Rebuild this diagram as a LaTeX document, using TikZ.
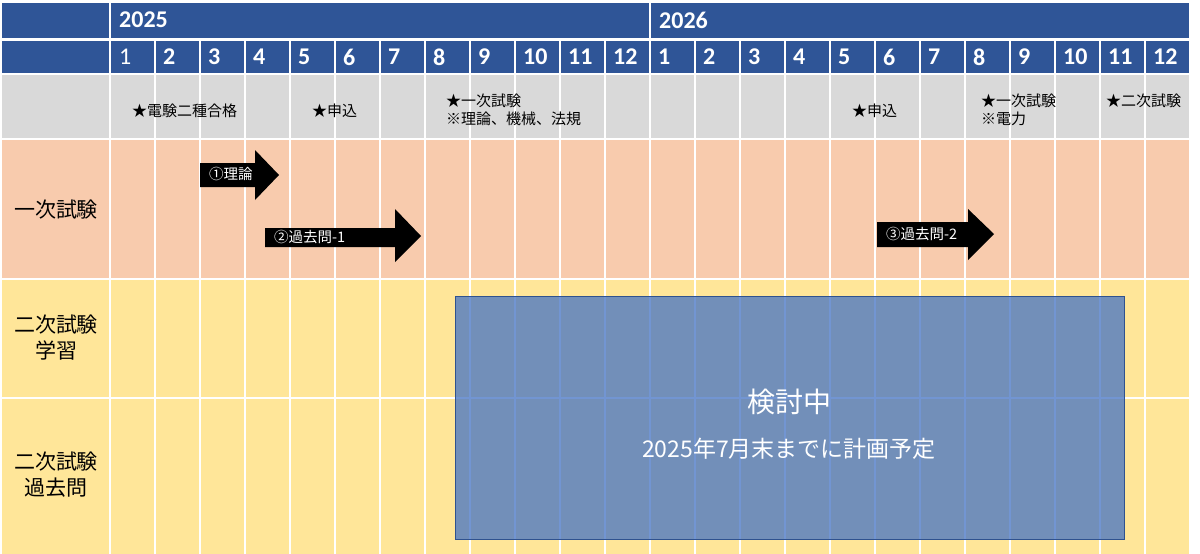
\documentclass[tikz,border=0pt]{standalone}
\usepackage{fontspec}
\setmainfont{Noto Sans CJK JP}
\newfontfamily\numfont{Carlito}
\definecolor{hdr}{HTML}{2F5597}
\definecolor{gry}{HTML}{D9D9D9}
\definecolor{pch}{HTML}{F8CBAD}
\definecolor{ylw}{HTML}{FFE699}
\definecolor{planfill}{HTML}{4472C4}
\definecolor{planedge}{HTML}{2F528F}
\tikzset{
  gridline/.style={white, line width=1.8pt},
  yeartxt/.style={anchor=west, inner sep=0pt, text=white, font=\numfont\bfseries\fontsize{24}{28}\selectfont},
  monthtxt/.style={anchor=west, inner sep=0pt, text=white, font=\numfont\bfseries\fontsize{24}{28}\selectfont},
  milestone/.style={anchor=west, inner sep=0pt, align=left, font=\fontsize{15}{18}\selectfont},
  rowlabel/.style={inner sep=0pt, align=center, font=\fontsize{21}{26}\selectfont},
  arrowbody/.style={fill=black},
  arrowtxt/.style={anchor=west, inner sep=0pt, text=white, font=\fontsize{14.5}{17}\selectfont},
  planbox/.style={draw=planedge, line width=0.8pt, fill=planfill, fill opacity=0.75},
  plantxt/.style={inner sep=0pt, text=white},
}
\begin{document}
\begin{tikzpicture}[x=1pt,y=-1pt]
\useasboundingbox (0,0) rectangle (1200,554);
\fill[white] (0,0) rectangle (1200,554);
% bands
\fill[hdr] (2,3) rectangle (1189,38);
\fill[hdr] (2,41) rectangle (1189,73);
\fill[gry] (2,75) rectangle (1189,138);
\fill[pch] (2,140) rectangle (1189,278);
\fill[ylw] (2,280) rectangle (1189,397);
\fill[ylw] (2,399) rectangle (1189,554);
% grid lines
\foreach \i in {0,...,23} {
  \draw[gridline] ({110+45*\i},41) -- ({110+45*\i},554);
}
\draw[gridline] (110,0) -- (110,41);
\draw[gridline] (650,0) -- (650,41);
% years
\node[yeartxt] (y25) at (119,20) {2025};
\node[yeartxt] (y26) at (659,20) {2026};
% months
\node[monthtxt, font=\numfont\fontsize{24}{28}\selectfont] (m1) at (119,57) {1};
\foreach \m in {2,...,12} {
  \node[monthtxt] (ma\m) at ({110+45*(\m-1)+8},57) {\m};
}
\foreach \m in {1,...,12} {
  \node[monthtxt] (mb\m) at ({650+45*(\m-1)+8},57) {\m};
}
% milestones
\node[milestone] (s1) at (132,111) {★電験二種合格};
\node[milestone] (s2) at (312,111) {★申込};
\node[milestone] (s3) at (446,110) {★一次試験\\※理論、機械、法規};
\node[milestone] (s4) at (852,111) {★申込};
\node[milestone] (s5) at (981,110) {★一次試験\\※電力};
\node[milestone] (s6) at (1106,101) {★二次試験};
% row labels
\node[rowlabel] (r1) at (56,210) {一次試験};
\node[rowlabel] (r2) at (56,338) {二次試験\\学習};
\node[rowlabel] (r3) at (56,475) {二次試験\\過去問};
% arrows
\fill[arrowbody] (200,163) -- (255,163) -- (255,150) -- (279,175) -- (255,200) -- (255,187) -- (200,187) -- cycle;
\node[arrowtxt] (a1) at (209,174) {①理論};
\fill[arrowbody] (265,228) -- (395,228) -- (395,209) -- (421,236) -- (395,262) -- (395,247) -- (265,247) -- cycle;
\node[arrowtxt] (a2) at (274,237) {②過去問-1};
\fill[arrowbody] (877,222) -- (968,222) -- (968,209) -- (994,234) -- (968,260) -- (968,247) -- (877,247) -- cycle;
\node[arrowtxt] (a3) at (886,234) {③過去問-2};
% plan box
\draw[planbox] (455,296) rectangle (1124,539);
\node[plantxt, font=\fontsize{28}{32}\selectfont] (k1) at (789,402) {検討中};
\node[plantxt, font=\fontsize{23}{27}\selectfont] (k2) at (789,449) {2025年7月末までに計画予定};
\end{tikzpicture}
\end{document}
